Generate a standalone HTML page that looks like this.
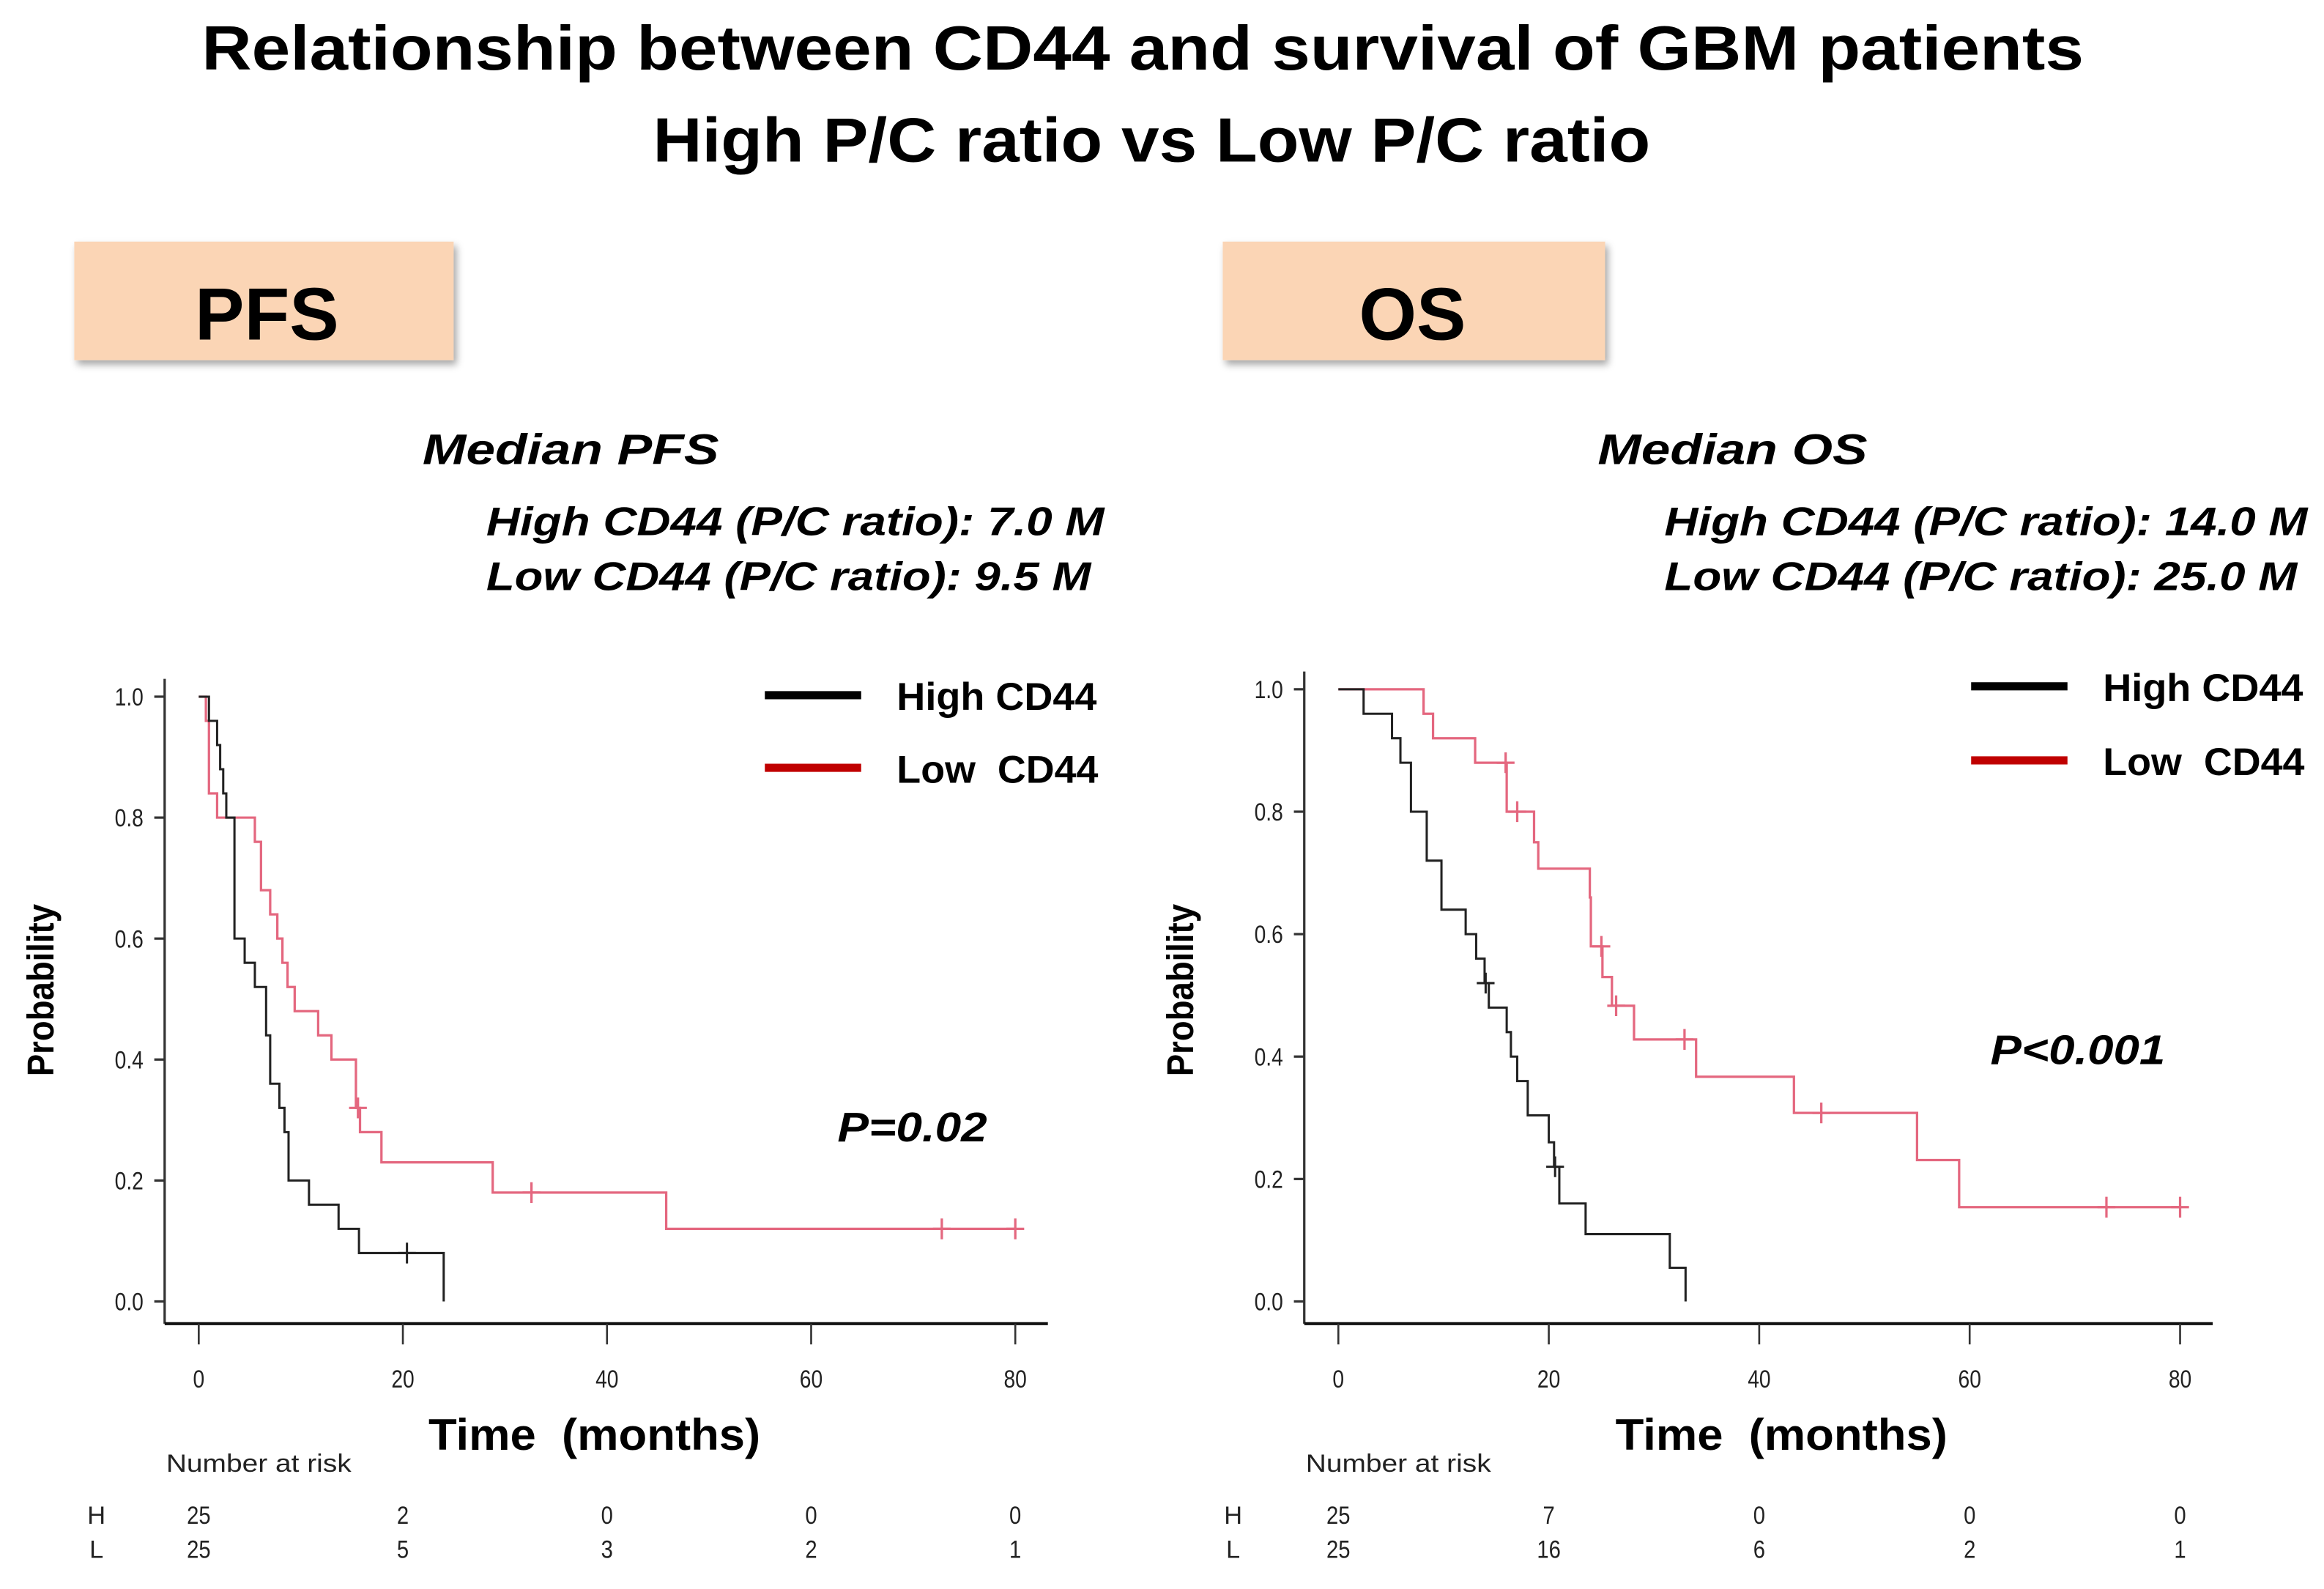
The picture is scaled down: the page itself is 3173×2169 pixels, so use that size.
<!DOCTYPE html>
<html><head><meta charset="utf-8"><style>
html,body{margin:0;padding:0;background:#fff;}
svg{display:block;}
text{font-family:"Liberation Sans",sans-serif;}
</style></head><body>
<svg id="fig" width="3173" height="2169" viewBox="0 0 1568 1072" xmlns="http://www.w3.org/2000/svg">
<defs><filter id="sh" x="-10%" y="-10%" width="130%" height="140%"><feDropShadow dx="2" dy="3" stdDeviation="2.5" flood-color="#000" flood-opacity="0.35"/></filter></defs>
<text x="771" y="47" text-anchor="middle" font-weight="bold" font-size="42" textLength="1270" lengthAdjust="spacingAndGlyphs">Relationship between CD44 and survival of GBM patients</text>
<text x="777" y="109" text-anchor="middle" font-weight="bold" font-size="42" textLength="673" lengthAdjust="spacingAndGlyphs">High P/C ratio vs Low P/C ratio</text>
<g><rect x="50" y="163" width="256" height="80" fill="#fbd5b5" filter="url(#sh)"/>
<text x="180" y="229" text-anchor="middle" font-weight="bold" font-size="50">PFS</text></g>
<g><rect x="825" y="163" width="258" height="80" fill="#fbd5b5" filter="url(#sh)"/>
<text x="953" y="229" text-anchor="middle" font-weight="bold" font-size="50">OS</text></g>
<g font-weight="bold" font-style="italic" font-size="29">
<text x="285" y="313" textLength="200" lengthAdjust="spacingAndGlyphs">Median PFS</text>
<text x="328" y="361" font-size="27" textLength="417" lengthAdjust="spacingAndGlyphs">High CD44 (P/C ratio): 7.0 M</text>
<text x="328" y="398" font-size="27" textLength="408" lengthAdjust="spacingAndGlyphs">Low CD44 (P/C ratio): 9.5 M</text>
<text x="1078" y="313" textLength="182" lengthAdjust="spacingAndGlyphs">Median OS</text>
<text x="1123" y="361" font-size="27" textLength="434" lengthAdjust="spacingAndGlyphs">High CD44 (P/C ratio): 14.0 M</text>
<text x="1123" y="398" font-size="27" textLength="427" lengthAdjust="spacingAndGlyphs">Low CD44 (P/C ratio): 25.0 M</text>
</g>
<g id="pfs"></g>
<g id="os"></g>
</svg>
<script>
// ---- PFS data ----
const pfsHighTimes = [1.0,1.8,2.1,2.4,2.7,3.5,4.5,5.5,6.6,7.0,7.9,8.4,8.8,10.8,13.7,15.7,24.0];
const pfsHighSurv  = [0.96,0.92,0.88,0.84,0.80,0.60,0.56,0.52,0.44,0.36,0.32,0.28,0.20,0.16,0.12,0.08,0.0];
const pfsHighCensorT = [20.4];
const pfsLowTimes = [0.7,1.0,1.8,5.5,6.1,7.0,7.7,8.2,8.7,9.4,11.7,13.0,15.4,15.8,17.9,28.8,45.8];
const pfsLowSurv  = [0.96,0.84,0.80,0.76,0.68,0.64,0.60,0.56,0.52,0.48,0.44,0.40,0.32,0.28,0.23,0.18,0.12];
const pfsLowCensorT = [15.6,32.6,72.8,80.0];
const pfsRiskH = ["25","2","0","0","0"];
const pfsRiskL = ["25","5","3","2","1"];
// ---- OS data ----
const osHighTimes = [2.4,5.1,5.9,6.9,8.4,9.8,12.1,13.1,13.9,14.3,16.0,16.4,17.0,18.0,20.0,20.5,21.0,23.5,31.5,33.0];
const osHighSurv  = [0.96,0.92,0.88,0.80,0.72,0.64,0.60,0.56,0.52,0.48,0.44,0.40,0.36,0.304,0.26,0.22,0.16,0.11,0.055,0.0];
const osHighCensorT = [14.0,20.6];
const osLowTimes = [8.1,9.0,13.0,16.0,18.6,19.0,23.9,24.0,25.1,26.0,28.1,34.0,43.3,55.0,59.0];
const osLowSurv  = [0.96,0.92,0.88,0.80,0.75,0.707,0.66,0.58,0.53,0.483,0.428,0.367,0.308,0.231,0.154];
const osLowCensorT = [15.9,17.0,25.0,26.4,32.9,45.9,73.0,80.0];
const osRiskH = ["25","7","0","0","0"];
const osRiskL = ["25","16","6","2","1"];
const xTicks = [0,20,40,60,80];
const yTicks = [0,0.2,0.4,0.6,0.8,1.0];
const yTickLabels = ["0.0","0.2","0.4","0.6","0.8","1.0"];

const NS="http://www.w3.org/2000/svg";
function mk(p,tag,attrs){const e=document.createElementNS(NS,tag);for(const k in attrs)e.setAttribute(k,attrs[k]);p.appendChild(e);return e;}
function survAt(times,surv,t){let s=1;for(let i=0;i<times.length;i++){if(times[i]<=t)s=surv[i];}return s;}

function drawChart(g,cfg){
  const X=t=>cfg.x0+t*(cfg.x80-cfg.x0)/80;
  const Y=p=>cfg.y0+p*(cfg.y1-cfg.y0);
  const ya=mk(g,'line',{x1:cfg.ax,y1:cfg.y1-12,x2:cfg.ax,y2:cfg.axY,stroke:'#333','stroke-width':1.6});
  
  
  const xa=mk(g,'line',{x1:cfg.ax,y1:cfg.axY,x2:cfg.axEnd,y2:cfg.axY,stroke:'#111','stroke-width':2});
  
  
  yTicks.forEach((v,i)=>{
    const tk=mk(g,'line',{x1:cfg.ax-7,y1:Y(v),x2:cfg.ax,y2:Y(v),stroke:'#333','stroke-width':1.6});
    
    
    const cx=cfg.ax-24;
    const tl=mk(g,'text',{x:cx,y:Y(v)+6,'text-anchor':'middle','font-size':17,fill:'#222',transform:`translate(${cx},0) scale(0.82,1) translate(${-cx},0)`});
    tl.textContent=yTickLabels[i];
    
    
  });
  xTicks.forEach(v=>{
    const tk=mk(g,'line',{x1:X(v),y1:cfg.axY,x2:X(v),y2:cfg.axY+14,stroke:'#333','stroke-width':1.3});
    
    
    const tl=mk(g,'text',{x:X(v),y:cfg.axY+43,'text-anchor':'middle','font-size':17,fill:'#222',transform:`translate(${X(v)},0) scale(0.82,1) translate(${-X(v)},0)`});
    tl.textContent=String(v);
    
    
  });
  const yt=mk(g,'text',{x:0,y:0,'text-anchor':'middle','font-size':25,'font-weight':'bold',transform:`translate(${cfg.ytX},668) rotate(-90) scale(0.9,1)`});
  yt.textContent='Probability';
  
  
  const xt=mk(g,'text',{x:cfg.xtX,y:cfg.axY+85,'text-anchor':'middle','font-size':30,'font-weight':'bold',textLength:224,lengthAdjust:'spacingAndGlyphs'});
  xt.textContent='Time\u00a0 (months)';
  
  
  function curve(times,surv,cens,color,name,w){
    let d=`M${X(0)},${Y(1)}`;
    for(let i=0;i<times.length;i++){d+=` H${X(times[i])} V${Y(surv[i])}`;}
    const tEnd=Math.max(times[times.length-1],...cens);
    d+=` H${X(tEnd)}`;
    const p=mk(g,'path',{d:d,fill:'none',stroke:color,'stroke-width':w});
    
    
    cens.forEach(t=>{
      const s=survAt(times,surv,t);
      const c=mk(g,'path',{d:`M${X(t)-6},${Y(s)} h12 M${X(t)},${Y(s)-7} v14`,stroke:color,'stroke-width':w,fill:'none'});
      
      
    });
  }
  curve(cfg.lowT,cfg.lowS,cfg.lowC,'#e4677f','low-cd44-curve',1.6);
  curve(cfg.highT,cfg.highS,cfg.highC,'#222','high-cd44-curve',1.5);
  const l1=mk(g,'line',{x1:cfg.legX,y1:cfg.legY1,x2:cfg.legX+65,y2:cfg.legY1,stroke:'#000','stroke-width':5.5});
  
  
  const l2=mk(g,'line',{x1:cfg.legX,y1:cfg.legY2,x2:cfg.legX+65,y2:cfg.legY2,stroke:'#c00000','stroke-width':5.5});
  
  
  const t1=mk(g,'text',{x:cfg.legX+89,y:cfg.legY1+10,'font-size':26,'font-weight':'bold',textLength:135,lengthAdjust:'spacingAndGlyphs'});
  t1.textContent='High CD44';
  
  
  const t2=mk(g,'text',{x:cfg.legX+89,y:cfg.legY2+10,'font-size':26,'font-weight':'bold',textLength:136,lengthAdjust:'spacingAndGlyphs'});
  t2.textContent='Low\u00a0 CD44';
  
  
  const pv=mk(g,'text',{x:cfg.pX,y:cfg.pY,'font-size':28,'font-weight':'bold','font-style':'italic',textLength:cfg.pW,lengthAdjust:'spacingAndGlyphs'});
  pv.textContent=cfg.pText;
  
  
  const nr=mk(g,'text',{x:cfg.ax+1,y:993,'font-size':17,fill:'#222',textLength:125,lengthAdjust:'spacingAndGlyphs'});
  nr.textContent='Number at risk';
  
  
  [['H',cfg.riskH,1028],['L',cfg.riskL,1051]].forEach(r=>{
    const lb=mk(g,'text',{x:cfg.hX,y:r[2],'font-size':17,fill:'#222','text-anchor':'middle'});
    lb.textContent=r[0];
    
    
    r[1].forEach((v,i)=>{
      const tv=mk(g,'text',{x:X(xTicks[i]),y:r[2],'font-size':17,fill:'#222','text-anchor':'middle',transform:`translate(${X(xTicks[i])},0) scale(0.85,1) translate(${-X(xTicks[i])},0)`});
      tv.textContent=v;
      
      
    });
  });
}
drawChart(document.getElementById('pfs'),{x0:134,x80:685,y0:878,y1:470,ax:111,axY:893,axEnd:707,ytX:36,xtX:401,
  highT:pfsHighTimes,highS:pfsHighSurv,highC:pfsHighCensorT,lowT:pfsLowTimes,lowS:pfsLowSurv,lowC:pfsLowCensorT,
  legX:516,legY1:469,legY2:518,pX:565,pY:770,pW:101,pText:'P=0.02',riskH:pfsRiskH,riskL:pfsRiskL,hX:65});
drawChart(document.getElementById('os'),{x0:903,x80:1471,y0:878,y1:465,ax:880,axY:893,axEnd:1493,ytX:805,xtX:1202,
  highT:osHighTimes,highS:osHighSurv,highC:osHighCensorT,lowT:osLowTimes,lowS:osLowSurv,lowC:osLowCensorT,
  legX:1330,legY1:463,legY2:513,pX:1343,pY:718,pW:118,pText:'P<0.001',riskH:osRiskH,riskL:osRiskL,hX:832});
</script>
</body></html>
